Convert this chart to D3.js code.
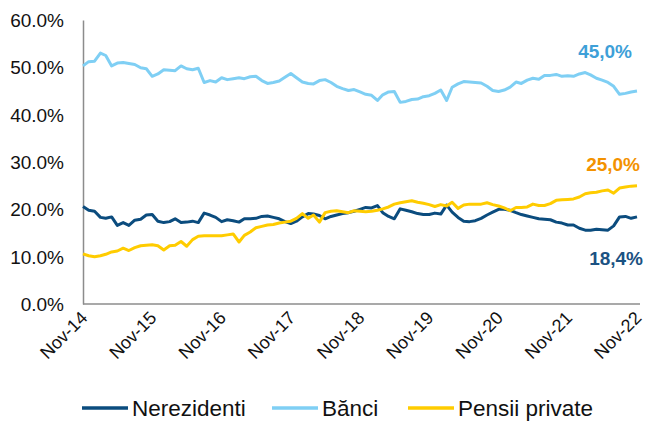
<!DOCTYPE html>
<html>
<head>
<meta charset="utf-8">
<script src="https://cdn.jsdelivr.net/npm/d3@7"></script>
<style>
  html, body { margin: 0; padding: 0; background: #fff; }
  text { font-family: Arial, "Liberation Sans", sans-serif; }
</style>
</head>
<body>
<svg id="chart" width="646" height="421"></svg>
<script>
// ---- data (monthly, Nov-2014 .. Nov-2022) ----
const startMonth = "2014-11";
const monthCount = 97;
const seriesNames = ["Nerezidenti", "Bănci", "Pensii private"];
const nerezidenti = [
  20.6, 19.8, 19.6, 18.3, 18.1, 18.4, 16.6, 17.2, 16.6, 17.7, 17.9, 18.8, 18.9, 17.5, 17.2, 17.4,
  18.0, 17.2, 17.3, 17.5, 17.2, 19.2, 18.8, 18.3, 17.4, 17.8, 17.6, 17.3, 18.0, 18.0, 18.1, 18.5,
  18.6, 18.3, 18.0, 17.4, 17.0, 17.5, 18.4, 19.1, 19.0, 18.7, 18.0, 18.5, 18.8, 19.1, 19.3, 19.6,
  20.0, 20.4, 20.3, 20.8, 19.3, 18.5, 18.0, 20.1, 19.8, 19.5, 19.1, 18.9, 18.9, 19.2, 19.0, 20.9,
  19.4, 18.3, 17.5, 17.4, 17.6, 18.1, 18.8, 19.4, 20.0, 20.0, 19.8, 19.3, 18.9, 18.6, 18.3, 18.0,
  17.9, 17.8, 17.3, 17.1, 16.7, 16.7, 16.0, 15.6, 15.6, 15.8, 15.7, 15.6, 16.5, 18.4, 18.5, 18.1,
  18.4
];
const banci = [
  50.3, 51.2, 51.3, 53.0, 52.5, 50.3, 50.9, 51.0, 50.8, 50.6, 49.9, 49.7, 48.1, 48.6, 49.5, 49.4,
  49.3, 50.3, 49.7, 49.5, 49.8, 46.8, 47.2, 46.9, 47.8, 47.4, 47.6, 47.8, 47.6, 48.0, 48.1, 47.2,
  46.6, 46.8, 47.1, 47.9, 48.7, 47.8, 46.9, 46.6, 46.5, 47.2, 47.4, 46.8, 46.0, 45.5, 45.1, 45.3,
  44.8, 44.3, 44.1, 43.0, 44.2, 44.8, 44.9, 42.6, 42.8, 43.2, 43.3, 43.8, 44.0, 44.5, 45.2, 43.0,
  45.8, 46.5, 47.0, 46.9, 46.8, 46.7, 46.0, 45.1, 44.9, 45.2, 45.8, 46.9, 46.6, 47.3, 47.7, 47.5,
  48.3, 48.3, 48.5, 48.1, 48.2, 48.1, 48.6, 48.9, 48.4, 47.7, 47.3, 46.8, 46.0, 44.3, 44.5, 44.8,
  45.0
];
const pensii = [
  10.6, 10.2, 10.0, 10.2, 10.5, 11.0, 11.2, 11.8, 11.3, 11.9, 12.3, 12.4, 12.5, 12.3, 11.4, 12.3,
  12.4, 13.2, 12.2, 13.6, 14.3, 14.4, 14.4, 14.4, 14.4, 14.6, 14.8, 13.1, 14.5, 15.2, 16.1, 16.4,
  16.7, 16.8, 17.1, 17.3, 17.5, 18.1, 19.1, 18.1, 18.8, 17.3, 19.3, 19.6, 19.7, 19.5, 19.3, 19.7,
  19.6, 19.5, 19.6, 19.8, 20.1, 20.5, 21.1, 21.4, 21.6, 21.8, 21.5, 21.3, 21.0, 20.6, 21.0, 20.7,
  21.5, 20.2, 20.9, 21.1, 21.1, 21.1, 21.4, 21.0, 20.7, 20.3, 19.7, 20.4, 20.4, 20.5, 21.1, 20.8,
  20.8, 21.2, 21.9, 22.0, 22.1, 22.2, 22.6, 23.3, 23.5, 23.6, 23.9, 24.1, 23.4, 24.5, 24.7, 24.9,
  25.0
];
const yTicks = [0, 10, 20, 30, 40, 50, 60];
const xTickLabels = ["Nov-14", "Nov-15", "Nov-16", "Nov-17", "Nov-18", "Nov-19", "Nov-20", "Nov-21", "Nov-22"];
const endLabels = ["18,4%", "45,0%", "25,0%"];

// ---- styles ----
const colors = ["#0B4C7E", "#7FCFF4", "#FFCC00"];
const labelColors = ["#1B5282", "#3EA0D8", "#F39200"];

const svg = d3.select("#chart");
const parse = d3.timeParse("%Y-%m");
const start = parse(startMonth);
const dates = d3.range(monthCount).map(i => d3.timeMonth.offset(start, i));
const tickDates = xTickLabels.map((_, i) => d3.timeMonth.offset(start, 12 * i));

const x = d3.scaleTime().domain([dates[0], dates[dates.length - 1]]).range([83, 637]);
const y = d3.scaleLinear().domain([0, 60]).range([304, 20]);

// y axis labels
const yAxis = d3.axisLeft(y).tickValues(yTicks).tickSize(0).tickPadding(19)
  .tickFormat(d => d.toFixed(1) + "%");
const gy = svg.append("g").attr("transform", "translate(83,0)").call(yAxis);
gy.select(".domain").attr("stroke", "#8c8c8c").attr("stroke-width", 1.5);
gy.selectAll("text").attr("font-size", 19).attr("fill", "#111").attr("dy", "0.35em");

// x axis
const xAxis = d3.axisBottom(x).tickValues(tickDates).tickSize(0).tickPadding(0)
  .tickFormat((d, i) => xTickLabels[i]);
const gx = svg.append("g").attr("transform", "translate(0,304)").call(xAxis);
gx.select(".domain").attr("stroke", "#8c8c8c").attr("stroke-width", 1.5)
  .attr("d", "M83,0H640");
gx.selectAll("text")
  .attr("font-size", 18).attr("fill", "#111")
  .attr("text-anchor", "end")
  .attr("dy", 0).attr("y", 0)
  .attr("transform", "translate(5,15) rotate(-45)");

// lines
const seriesData = [nerezidenti, banci, pensii];
const line = d3.line().x((d, i) => x(dates[i])).y(d => y(d));
seriesData.forEach((s, k) => {
  svg.append("path").datum(s)
    .attr("fill", "none").attr("stroke", colors[k]).attr("stroke-width", 3)
    .attr("stroke-linejoin", "round").attr("d", line);
});

// end labels
const lastDate = dates[dates.length - 1];
const labelOffsets = [[6, 48], [-5, -33], [3, -15]];
seriesData.forEach((s, k) => {
  svg.append("text")
    .attr("x", x(lastDate) + labelOffsets[k][0])
    .attr("y", y(s[s.length - 1]) + labelOffsets[k][1])
    .attr("text-anchor", "end")
    .attr("font-size", 19).attr("font-weight", "bold")
    .attr("fill", labelColors[k])
    .text(endLabels[k]);
});

// legend
const legendX = [82, 272, 408];
const lg = svg.append("g");
seriesNames.forEach((n, k) => {
  lg.append("line").attr("x1", legendX[k]).attr("x2", legendX[k] + 46)
    .attr("y1", 408).attr("y2", 408)
    .attr("stroke", colors[k]).attr("stroke-width", 3.5);
  lg.append("text").attr("x", legendX[k] + 50).attr("y", 416)
    .attr("font-size", 22.5).attr("fill", "#111").text(n);
});
</script>
</body>
</html>
